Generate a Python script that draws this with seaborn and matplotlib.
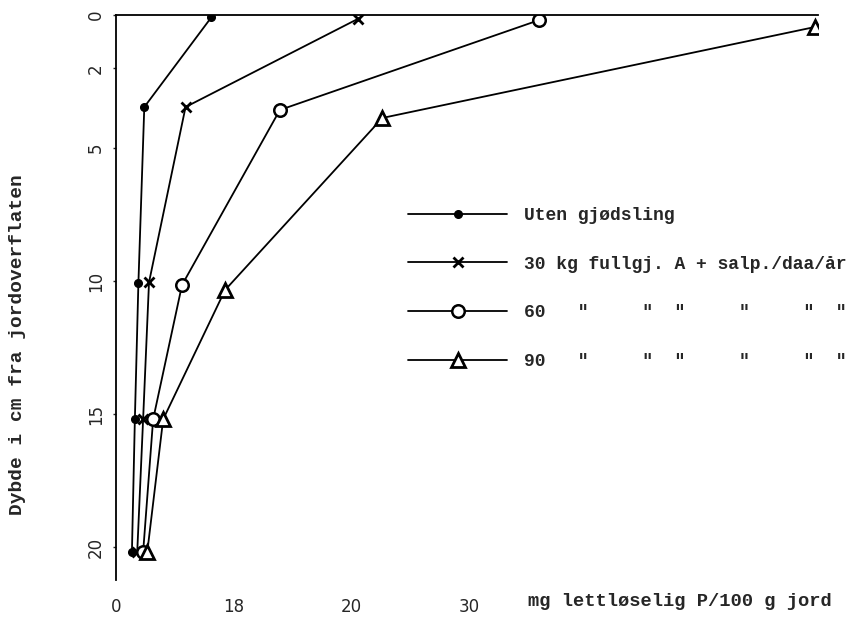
import numpy as np
import pandas as pd
import matplotlib
matplotlib.use('Agg')
import matplotlib.pyplot as plt
import seaborn as sns

# P content (mg lettløselig P/100 g jord) against depth (cm)
depth_uten = [0.08, 3.46, 10.08, 15.2, 20.2]
p_uten = [8.1, 2.4, 1.9, 1.6, 1.35]
depth_30 = [0.15, 3.46, 10.05, 15.2, 20.2]
p_30 = [20.5, 5.9, 2.8, 2.3, 1.8]
depth_60 = [0.19, 3.57, 10.15, 15.2, 20.2]
p_60 = [35.9, 13.9, 5.6, 3.15, 2.3]
depth_90 = [0.45, 3.87, 10.34, 15.2, 20.2]
p_90 = [59.3, 22.6, 9.25, 4.0, 2.65]

ditto = '   "     "  "     "     "  "'
series_labels = ['Uten gjødsling',
                 '30 kg fullgj. A + salp./daa/år',
                 '60' + ditto,
                 '90' + ditto]

depth_ticks = [0, 2, 5, 10, 15, 20]
p_ticks = [0, 10, 20, 30]
p_tick_labels = ['0', '18', '20', '30']

sns.set_style('white')
plt.rcParams['font.family'] = ['Liberation Mono', 'DejaVu Sans Mono']

fig = plt.figure(figsize=(8.57, 6.17), dpi=100)
ax = fig.add_axes([116 / 857, 1 - 580 / 617, (818 - 116) / 857, (580 - 15) / 617])

marker_kw = [
    dict(marker='o', markersize=5.5, markerfacecolor='black', markeredgewidth=1),
    dict(marker='x', markersize=7.5, markeredgewidth=2),
    dict(marker='o', markersize=9, markerfacecolor='white', markeredgewidth=1.8),
    dict(marker='^', markersize=10, markerfacecolor='white', markeredgewidth=2),
]
series = [(p_uten, depth_uten), (p_30, depth_30), (p_60, depth_60), (p_90, depth_90)]

for (p, d), kw, lab in zip(series, marker_kw, series_labels):
    df = pd.DataFrame({'p': p, 'depth': d})
    sns.lineplot(data=df, x='p', y='depth', sort=False, estimator=None,
                 color='black', linewidth=1.3, markeredgecolor='black',
                 label=lab, ax=ax, **kw)

ax.set_xlim(0, 59.55)
ax.set_ylim(21.24, 0)

for side in ['right', 'bottom']:
    ax.spines[side].set_visible(False)
for side in ['left', 'top']:
    ax.spines[side].set_color('black')
    ax.spines[side].set_linewidth(1.3)

ax.set_xticks(p_ticks, p_tick_labels)
ax.set_yticks(depth_ticks, [str(t) for t in depth_ticks])
ax.tick_params(axis='x', length=0, pad=13, labelsize=12, labelfontfamily='DejaVu Sans')
ax.tick_params(axis='y', length=2, width=1, pad=6, labelsize=12, labelrotation=90,
               left=True, labelfontfamily='DejaVu Sans')
for t in ax.get_yticklabels():
    t.set_va('center')
ax.set_xlabel('')
ax.set_ylabel('')

fig.text(528 / 857, 1 - 602 / 617, 'mg lettløselig P/100 g jord',
         fontsize=13.5, fontweight='bold', va='center', ha='left')
fig.text(18 / 857, 1 - 345 / 617, 'Dybde i cm fra jordoverflaten',
         fontsize=14, fontweight='bold', rotation=90, va='center', ha='center')

handles = ax.get_lines()[:4]
leg = ax.legend(handles, series_labels, loc='upper left',
                bbox_to_anchor=(399 / 857, 1 - 198 / 617),
                bbox_transform=fig.transFigure, frameon=False,
                borderpad=0, handlelength=5.5, handletextpad=0.9,
                labelspacing=1.75, numpoints=1,
                prop={'family': 'Liberation Mono', 'size': 13, 'weight': 'bold'})

fig.savefig('out.png', dpi=100)
